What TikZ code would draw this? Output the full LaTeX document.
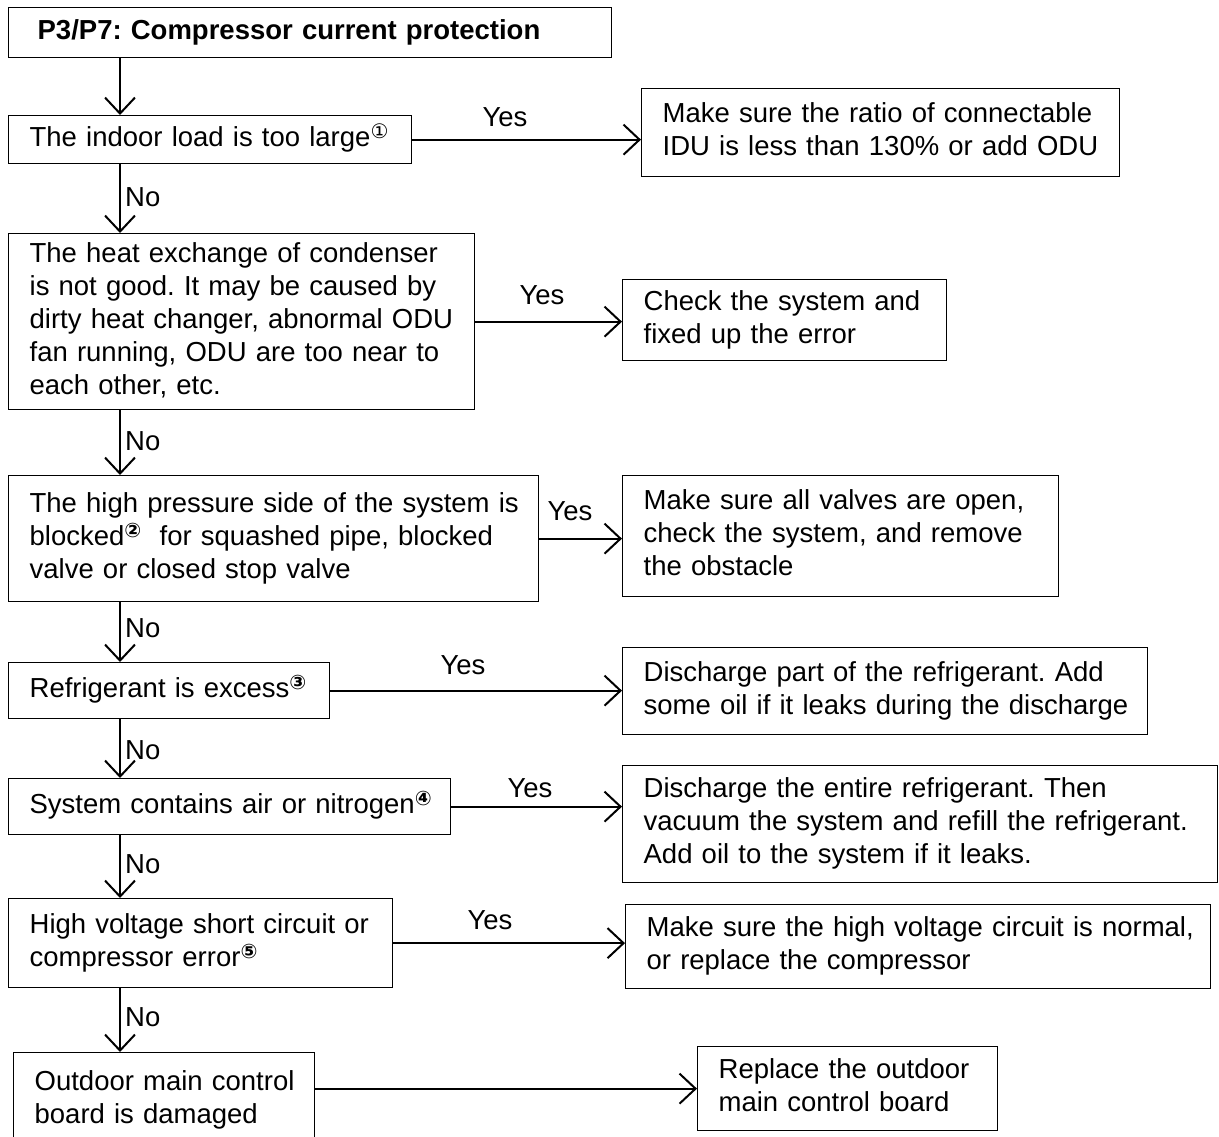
\documentclass[tikz,border=0pt]{standalone}
\usepackage{fontspec}
\setmainfont{Liberation Sans}
\newfontfamily\djv{DejaVu Sans}
\usetikzlibrary{arrows.meta}
\newcommand\cn[1]{\raisebox{8pt}{\fontsize{20}{20}\selectfont\djv #1}}
\newcommand\lns[1]{\begin{tabular}{@{}l@{}}#1\end{tabular}}
\frenchspacing
\begin{document}
\begin{tikzpicture}[x=1pt,y=-1pt,
  box/.style={draw, line width=1.3pt, anchor=north west, inner xsep=21pt, inner ysep=0pt, align=left, font=\fontsize{27.5}{33}\selectfont},
  flow/.style={line width=2pt, -{Straight Barb[length=16pt,width=30pt]}},
  lbl/.style={font=\fontsize{27.5}{33}\selectfont, inner sep=0pt}]
\useasboundingbox (0,0) rectangle (1219,1137);
\clip (0,0) rectangle (1219,1137);
\coordinate (sp) at (120,0);
% left column
\node[box, font=\fontsize{27.5}{33}\selectfont\bfseries, inner xsep=29pt, minimum width=603pt, minimum height=50pt, text width=545pt] (title) at (8,7) {\lns{P3/P7: Compressor current protection}};
\node[box, minimum width=403pt, minimum height=48pt, text width=361pt] (b1) at (8,115) {\lns{The indoor load is too large\cn{①}}};
\node[box, minimum width=466pt, minimum height=176pt, text width=424pt] (b2) at (8,233) {\lns{The heat exchange of condenser\\is not good. It may be caused by\\dirty heat changer, abnormal ODU\\fan running, ODU are too near to\\each other, etc.}};
\node[box, minimum width=530pt, minimum height=126pt, text width=488pt] (b3) at (8,475) {\lns{The high pressure side of the system is\\blocked\cn{\bfseries ②}\ \ for squashed pipe, blocked\\valve or closed stop valve}};
\node[box, minimum width=321pt, minimum height=56pt, text width=279pt] (b4) at (8,662) {\lns{Refrigerant is excess\cn{\bfseries ③}}};
\node[box, minimum width=442pt, minimum height=56pt, text width=400pt] (b5) at (8,778) {\lns{System contains air or nitrogen\cn{\bfseries ④}}};
\node[box, minimum width=384pt, minimum height=89pt, text width=342pt] (b6) at (8,898) {\lns{High voltage short circuit or\\compressor error\cn{\bfseries ⑤}}};
\node[box, minimum width=301pt, minimum height=95pt, text width=259pt] (b7) at (13,1052) {\lns{Outdoor main control\\board is damaged}};
% right column
\node[box, minimum width=478pt, minimum height=88pt, text width=436pt] (r1) at (641,88) {\lns{Make sure the ratio of connectable\\IDU is less than 130\% or add ODU}};
\node[box, minimum width=324pt, minimum height=81pt, text width=282pt] (r2) at (622,279) {\lns{Check the system and\\fixed up the error}};
\node[box, minimum width=436pt, minimum height=121pt, text width=394pt] (r3) at (622,475) {\lns{Make sure all valves are open,\\check the system, and remove\\the obstacle}};
\node[box, minimum width=525pt, minimum height=87pt, text width=483pt] (r4) at (622,647) {\lns{Discharge part of the refrigerant. Add\\some oil if it leaks during the discharge}};
\node[box, minimum width=595pt, minimum height=117pt, text width=553pt] (r5) at (622,765) {\lns{Discharge the entire refrigerant. Then\\vacuum the system and refill the refrigerant.\\Add oil to the system if it leaks.}};
\node[box, minimum width=585pt, minimum height=84pt, text width=543pt] (r6) at (625,904) {\lns{Make sure the high voltage circuit is normal,\\or replace the compressor}};
\node[box, minimum width=300pt, minimum height=84pt, text width=258pt] (r7) at (697,1046) {\lns{Replace the outdoor\\main control board}};
% vertical flow
\draw[flow] (title.south -| sp) -- (b1.north -| sp);
\draw[flow] (b1.south -| sp) -- (b2.north -| sp);
\draw[flow] (b2.south -| sp) -- (b3.north -| sp);
\draw[flow] (b3.south -| sp) -- (b4.north -| sp);
\draw[flow] (b4.south -| sp) -- (b5.north -| sp);
\draw[flow] (b5.south -| sp) -- (b6.north -| sp);
\draw[flow] (b6.south -| sp) -- (b7.north -| sp);
% horizontal flow
\draw[flow] (b1.east) -- (b1.east -| r1.west);
\draw[flow] (b2.east) -- (b2.east -| r2.west);
\draw[flow] (b3.east) -- (b3.east -| r3.west);
\draw[flow] (b4.east) -- (b4.east -| r4.west);
\draw[flow] (b5.east) -- (b5.east -| r5.west);
\draw[flow] (b6.east) -- (b6.east -| r6.west);
\draw[flow] (b7.east |- r7.west) -- (r7.west);
% labels
\node[lbl] (y1) at (505,117) {Yes};
\node[lbl] (y2) at (542,295) {Yes};
\node[lbl] (y3) at (570,511) {Yes};
\node[lbl] (y4) at (463,665) {Yes};
\node[lbl] (y5) at (530,788) {Yes};
\node[lbl] (y6) at (490,920) {Yes};
\node[lbl, anchor=west] (n1) at (125,197) {No};
\node[lbl, anchor=west] (n2) at (125,441) {No};
\node[lbl, anchor=west] (n3) at (125,628) {No};
\node[lbl, anchor=west] (n4) at (125,750) {No};
\node[lbl, anchor=west] (n5) at (125,864) {No};
\node[lbl, anchor=west] (n6) at (125,1017) {No};
\end{tikzpicture}
\end{document}
